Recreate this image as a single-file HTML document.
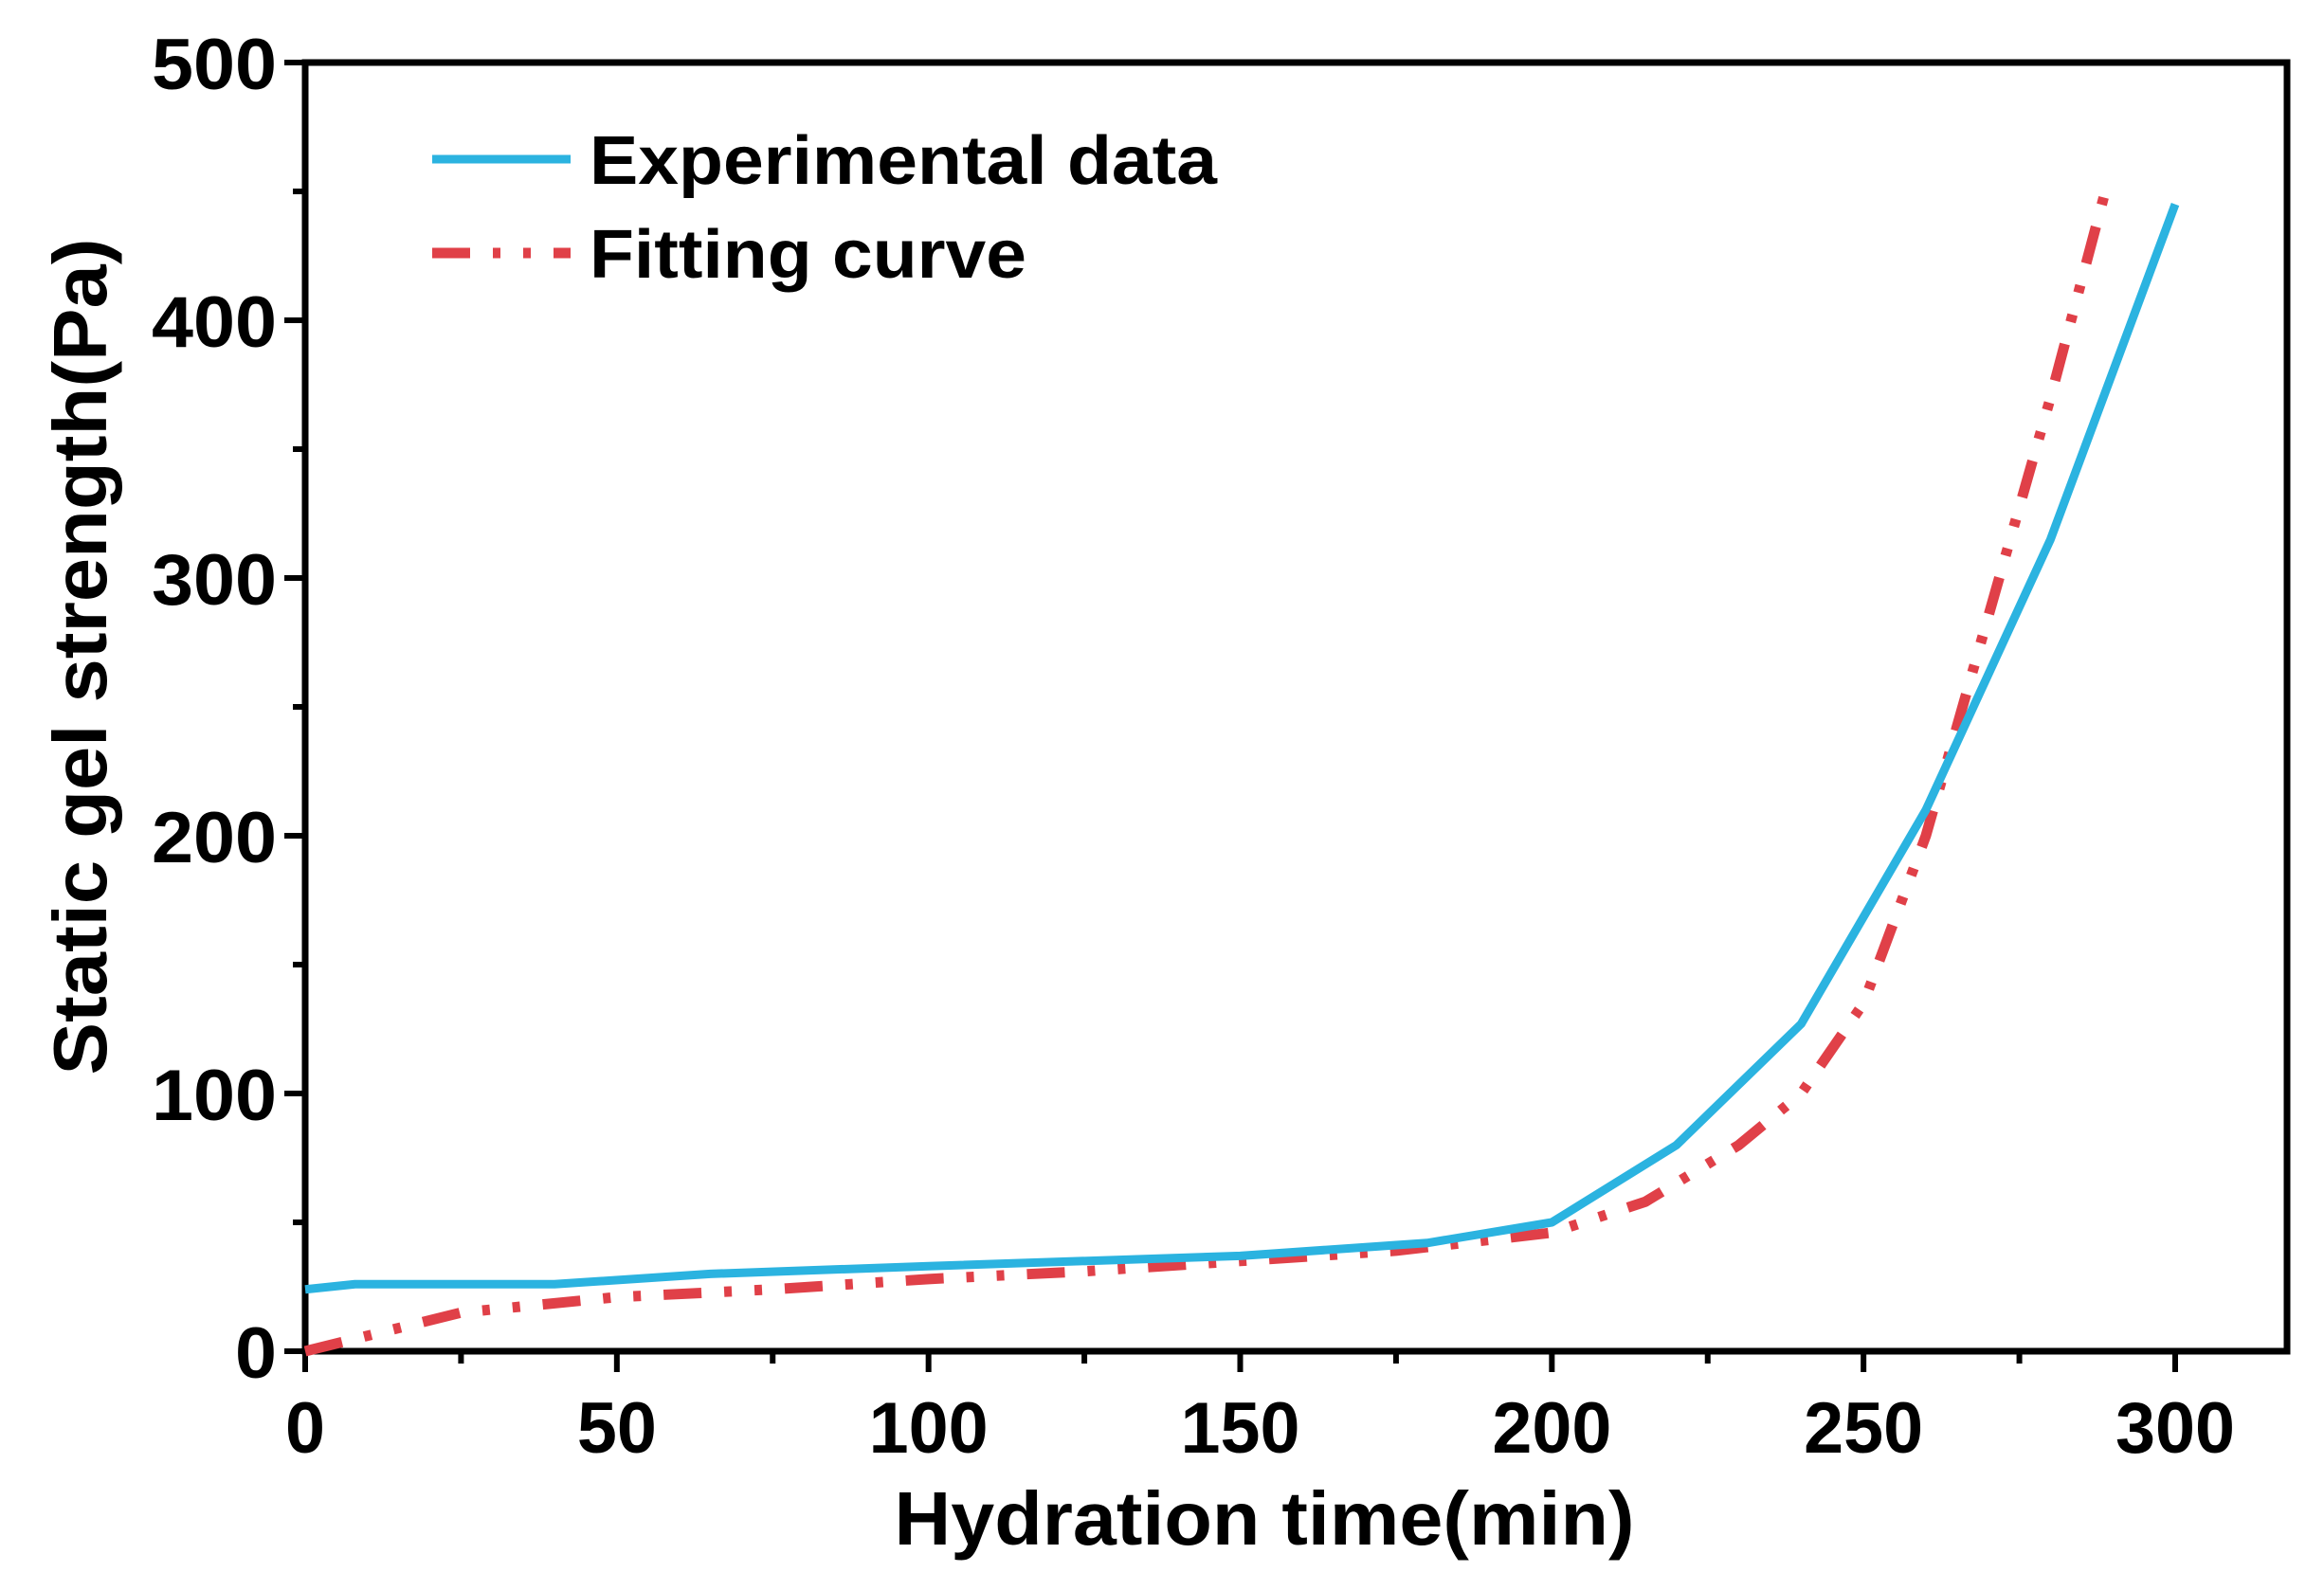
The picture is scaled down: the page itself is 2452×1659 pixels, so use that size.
<!DOCTYPE html>
<html><head><meta charset="utf-8"><style>
html,body{margin:0;padding:0;background:#fff;}
svg{display:block;font-family:"Liberation Sans",Arial,sans-serif;font-weight:bold;}
</style></head><body>
<svg id="chart" width="2452" height="1659" viewBox="0 0 2452 1659" xmlns="http://www.w3.org/2000/svg">
<g id="axes"></g>
<g id="series"></g>
<g>
  <line x1="456" y1="168" x2="602" y2="168" stroke="#2bb3e0" stroke-width="9"/>
  <text x="622" y="194" font-size="72" textLength="662" lengthAdjust="spacingAndGlyphs">Experimental data</text>
  <line x1="456" y1="267" x2="602" y2="267" stroke="#e04048" stroke-width="11" stroke-dasharray="40 24 8 24 8 24"/>
  <text x="622" y="293" font-size="72" textLength="461" lengthAdjust="spacingAndGlyphs">Fitting curve</text>
</g>
<text x="1334" y="1630" font-size="80" text-anchor="middle" textLength="781" lengthAdjust="spacingAndGlyphs">Hydration time(min)</text>
<text transform="translate(112,693) rotate(-90)" font-size="80" text-anchor="middle" textLength="883" lengthAdjust="spacingAndGlyphs">Static gel strength(Pa)</text>
</svg>
<script>
const xTicks = [0, 50, 100, 150, 200, 250, 300];
const yTicks = [0, 100, 200, 300, 400, 500];
const expX = [0, 8, 40, 65, 100, 150, 180, 200, 220, 240, 260, 280, 300];
const expY = [24, 26, 26, 30, 33, 37, 42, 50, 80, 127, 210, 315, 445];
const fitX = [0, 10, 25, 50, 75, 100, 125, 150, 175, 200, 215, 230, 240, 250, 260, 270, 280, 289];
const fitY = [0, 6, 15, 21, 24, 28, 31, 35, 39, 46, 58, 80, 100, 135, 200, 285, 370, 452];

const L = 322, R = 2413, T = 66, B = 1426;
const X0 = 322, X300 = 2295;
function sx(v){ return X0 + (v/300)*(X300-X0); }
function sy(v){ return B - (v/500)*(B-T); }
const NS = "http://www.w3.org/2000/svg";
function mk(tag, attrs, parent){ const e=document.createElementNS(NS,tag); for(const k in attrs) e.setAttribute(k,attrs[k]); parent.appendChild(e); return e; }

const axes = document.getElementById('axes');
const frame = mk('rect',{x:L,y:T,width:R-L,height:B-T,fill:'none',stroke:'#000','stroke-width':7},axes);



for (let v=0; v<=325; v+=25){
  const x = sx(v); if (x > R) break;
  const major = v%50===0;
  const t = mk('line',{x1:x,y1:B,x2:x,y2:B+(major?22:13),stroke:'#000','stroke-width':6},axes);
  
  
}
xTicks.forEach(v=>{
  const s = String(v);
  const t = mk('text',{x:sx(v),y:1533,'font-size':76,'text-anchor':'middle',textLength:s.length*42,lengthAdjust:'spacingAndGlyphs'},axes);
  t.textContent = s;
  
  
});
for (let v=0; v<=500; v+=50){
  const y = sy(v); const major = v%100===0;
  const t = mk('line',{x1:L,y1:y,x2:L-(major?22:13),y2:y,stroke:'#000','stroke-width':6},axes);
  
  
}
yTicks.forEach(v=>{
  const s = String(v);
  const t = mk('text',{x:292,y:sy(v)+28,'font-size':76,'text-anchor':'end',textLength:s.length*44,lengthAdjust:'spacingAndGlyphs'},axes);
  t.textContent = s;
  
  
});

const series = document.getElementById('series');
const fitPts = fitX.map((x,i)=>sx(x)+','+sy(fitY[i])).join(' ');
const fit = mk('polyline',{points:fitPts,fill:'none',stroke:'#e04048','stroke-width':11,'stroke-dasharray':'40 24 8 24 8 24','stroke-linejoin':'round'},series);


const expPts = expX.map((x,i)=>sx(x)+','+sy(expY[i])).join(' ');
const exp = mk('polyline',{points:expPts,fill:'none',stroke:'#2bb3e0','stroke-width':9,'stroke-linejoin':'round'},series);


</script>
</body></html>
